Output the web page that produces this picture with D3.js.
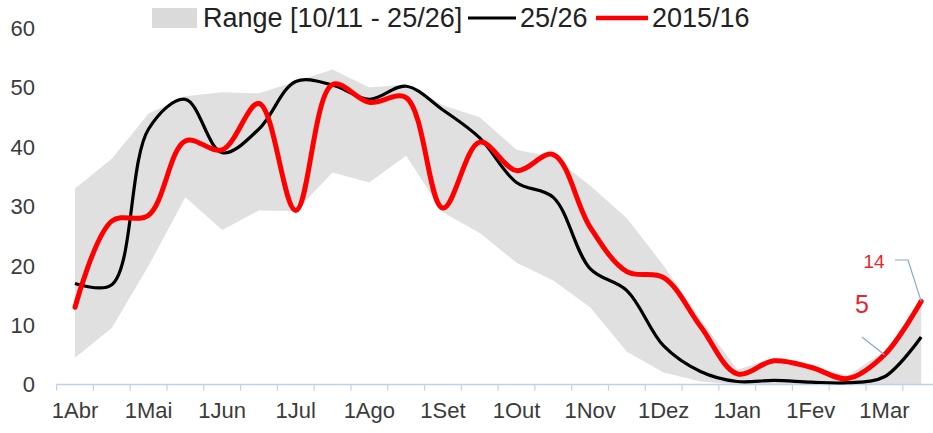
<!DOCTYPE html>
<html>
<head>
<meta charset="utf-8">
<script src="https://cdn.jsdelivr.net/npm/d3@7"></script>
<style>
  html, body { margin: 0; padding: 0; background: #fff; }
  svg { display: block; font-family: "Liberation Sans", Arial, sans-serif; }
</style>
</head>
<body>
<svg id="chart" width="933" height="433"></svg>
<script>
// Semi-monthly periods, April to March
const periods = ["1Abr","16Abr","1Mai","16Mai","1Jun","16Jun","1Jul","16Jul","1Ago","16Ago","1Set","16Set",
                 "1Out","16Out","1Nov","16Nov","1Dez","16Dez","1Jan","16Jan","1Fev","16Fev","1Mar","16Mar"];
const monthLabels = ["1Abr","1Mai","1Jun","1Jul","1Ago","1Set","1Out","1Nov","1Dez","1Jan","1Fev","1Mar"];
const yTicks = [0, 10, 20, 30, 40, 50, 60];

// Historical range 10/11 - 25/26
const rangeLow  = [4.5, 9.5, 20, 31.5, 26, 29.3, 29.2, 35.7, 34, 38.5, 29, 25.5,
                   20.5, 17.5, 13, 5.5, 2, 0.5, 0, 0, 0, 0, 0, 0];
const rangeHigh = [33, 38, 45.6, 48.5, 49.2, 49, 51, 53, 50, 50.5, 47, 45,
                   39.5, 38.3, 33.5, 28, 20, 11, 2.5, 4.5, 3, 1.5, 5.5, 14];
// Season 25/26
const season2526 = [17, 16.8, 43, 48, 39, 43, 51, 50.4, 48, 50.2, 46.2, 41.5,
                    34, 31.5, 19.5, 15.8, 6.5, 2.2, 0.5, 0.7, 0.4, 0.3, 1.3, 8];
// Season 2015/16
const season1516 = [13, 27.5, 28.5, 41, 39.5, 47.3, 29.3, 50.5, 47.5, 48.3, 29.7, 40.8,
                    36, 38.7, 26.5, 19, 18, 9.8, 1.8, 4, 2.9, 1, 5, 14];

const svg = d3.select("#chart");

const x = d3.scaleBand().domain(periods).range([56.6, 939.6]).padding(0);
const cx = p => x(p) + x.bandwidth() / 2;
const y = d3.scaleLinear().domain([0, 60]).range([384.5, 28]);

const axisColor = "#bcd2ea";
const textColor = "#3b3b3b";

// Range band
const rangeData = periods.map((p, i) => ({ p, lo: rangeLow[i], hi: rangeHigh[i] }));
svg.append("path")
  .datum(rangeData)
  .attr("fill", "#e0e0e0")
  .attr("d", d3.area().x(d => cx(d.p)).y0(d => y(d.lo)).y1(d => y(d.hi)));

// X axis line and tick marks at period boundaries
const bounds = periods.map(p => x(p)).concat([x(periods[periods.length - 1]) + x.bandwidth()]);
svg.append("line")
  .attr("x1", bounds[0]).attr("x2", 933)
  .attr("y1", y(0)).attr("y2", y(0))
  .attr("stroke", axisColor).attr("stroke-width", 1.5);
svg.append("g").selectAll("line").data(bounds).join("line")
  .attr("x1", d => d).attr("x2", d => d)
  .attr("y1", y(0)).attr("y2", y(0) + 6)
  .attr("stroke", axisColor).attr("stroke-width", 1.2);

// Month labels
svg.append("g").selectAll("text").data(monthLabels).join("text")
  .attr("x", d => cx(d))
  .attr("y", 418)
  .attr("text-anchor", "middle")
  .attr("font-size", 22)
  .attr("fill", textColor)
  .text(d => d);

// Y labels
svg.append("g").selectAll("text").data(yTicks).join("text")
  .attr("x", 35)
  .attr("y", d => y(d))
  .attr("dy", "0.36em")
  .attr("text-anchor", "end")
  .attr("font-size", 22)
  .attr("fill", textColor)
  .text(d => d);

// Smoothed season lines
const line = d3.line()
  .x((d, i) => cx(periods[i]))
  .y(d => y(d))
  .curve(d3.curveCatmullRom.alpha(0.5));

svg.append("path")
  .datum(season2526)
  .attr("fill", "none")
  .attr("stroke", "#000")
  .attr("stroke-width", 3.2)
  .attr("stroke-linejoin", "round")
  .attr("d", line);

svg.append("path")
  .datum(season1516)
  .attr("fill", "none")
  .attr("stroke", "#ff0000")
  .attr("stroke-width", 5)
  .attr("stroke-linejoin", "round")
  .attr("stroke-linecap", "round")
  .attr("d", line);

// Value callouts for the last two 2015/16 points
const leader = "#86a9d4";
const iLast = periods.length - 1;
const iPrev = periods.length - 2;

const pLast = [cx(periods[iLast]), y(season1516[iLast])];
svg.append("polyline")
  .attr("points", [[895, 260], [908, 260], pLast].map(p => p.join(",")).join(" "))
  .attr("fill", "none").attr("stroke", leader).attr("stroke-width", 1.2);
svg.append("text")
  .attr("x", 874).attr("y", 268)
  .attr("text-anchor", "middle")
  .attr("font-size", 19)
  .attr("fill", "#e8262a")
  .text(season1516[iLast]);

const pPrev = [cx(periods[iPrev]), y(season1516[iPrev])];
svg.append("line")
  .attr("x1", 862).attr("y1", 337)
  .attr("x2", pPrev[0]).attr("y2", pPrev[1])
  .attr("stroke", leader).attr("stroke-width", 1.2);
svg.append("text")
  .attr("x", 862).attr("y", 313)
  .attr("text-anchor", "middle")
  .attr("font-size", 25)
  .attr("fill", "#e8262a")
  .text(season1516[iPrev]);

// Legend
const legend = svg.append("g").attr("font-size", 27).attr("fill", "#222");
legend.append("rect").attr("x", 152).attr("y", 8).attr("width", 45).attr("height", 20).attr("fill", "#dadada");
legend.append("text").attr("x", 203).attr("y", 27).text("Range [10/11 - 25/26]");
legend.append("line").attr("x1", 468).attr("x2", 516).attr("y1", 18).attr("y2", 18)
  .attr("stroke", "#000").attr("stroke-width", 3.2);
legend.append("text").attr("x", 520).attr("y", 27).text("25/26");
legend.append("line").attr("x1", 596).attr("x2", 648).attr("y1", 18).attr("y2", 18)
  .attr("stroke", "#ff0000").attr("stroke-width", 4.5);
legend.append("text").attr("x", 652).attr("y", 27).text("2015/16");
</script>
</body>
</html>
